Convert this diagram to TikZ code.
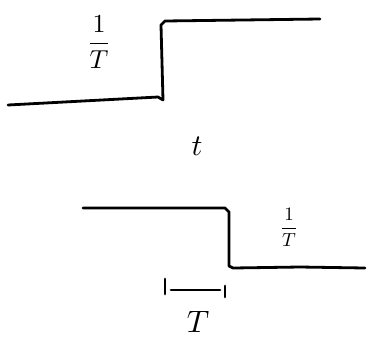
\documentclass[tikz,border=0pt]{standalone}
\usepackage{tikz}

\begin{document}
\begin{tikzpicture}[x=1pt,y=-1pt,line width=2.8pt,line cap=round,line join=round]
\useasboundingbox (0,0) rectangle (369,341);
% rising step
\draw (8,105) -- (158,97) -- (163,100) -- (161,25) -- (165,21) -- (320,19);
\node[scale=2.6] (upfrac) at (99,42) {$\displaystyle\frac{1}{T}$};
\node[scale=3] (tlabel) at (197,146) {$t$};
% falling step
\draw (83,208) -- (225,208) -- (229,212) -- (229,266) -- (233,268) -- (300,267) -- (365,268);
\node[scale=1.9] (downfrac) at (289,227) {$\displaystyle\frac{1}{T}$};
% width of one step
\draw (165,279) -- (165,294);
\draw (225,286) -- (225,297);
\draw (171,290) -- (220,290);
\node[scale=3.1] (width) at (198,322) {$T$};
\end{tikzpicture}
\end{document}
